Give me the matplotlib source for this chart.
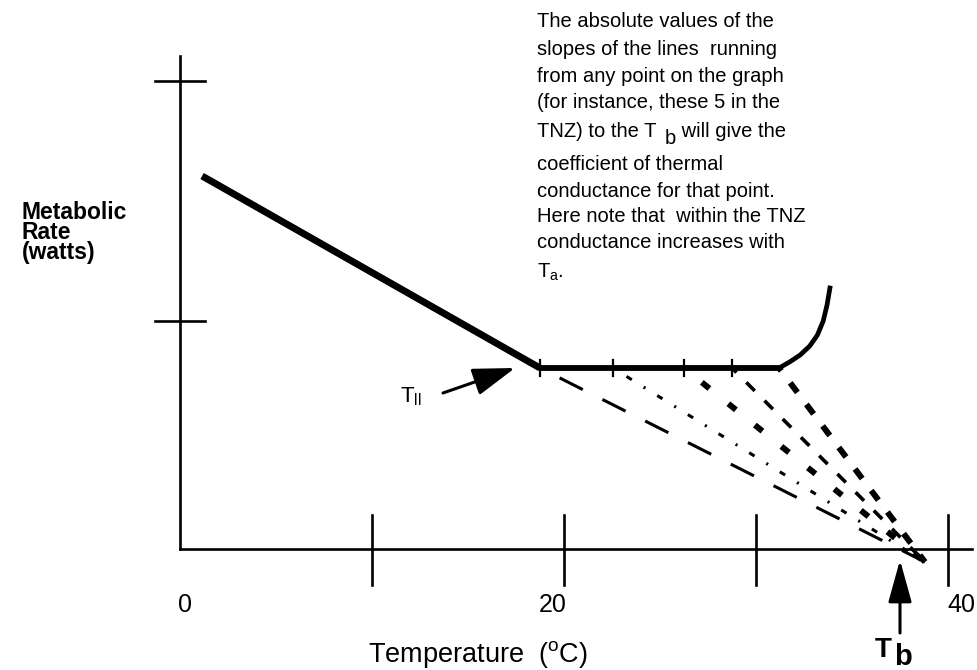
import numpy as np
import matplotlib
matplotlib.use('Agg')
import matplotlib.pyplot as plt

plt.rcParams['font.family'] = ['Liberation Sans', 'DejaVu Sans']
plt.rcParams['mathtext.fontset'] = 'custom'
plt.rcParams['mathtext.rm'] = 'Liberation Sans'
plt.rcParams['lines.scale_dashes'] = False

# ---------------------------------------------------------------------------
# data (temperature in oC, metabolic rate in arbitrary units)

x_ticks = [10, 20, 30, 40]
x_tick_labels = ['0', '20', '40']
x_label_vals = [0, 20, 40]
y_ticks = [2.28, 4.68]

cold_temp = [1.15, 18.75]
cold_rate = [3.73, 1.81]

tnz_temps = [18.75, 22.55, 26.25, 28.75, 31.2]
tnz_rate = 1.81

hot_temp = [31.2, 31.75, 32.3, 32.8, 33.2, 33.5, 33.7, 33.85]
hot_rate = [1.81, 1.87, 1.94, 2.03, 2.14, 2.28, 2.44, 2.61]

tb_conv = 38.8      # where the conductance lines meet
conv_rate = -0.13
t_body = 37.5

text_block = ["The absolute values of the",
              "slopes of the lines  running",
              "from any point on the graph",
              "(for instance, these 5 in the",
              None,   # line with the T b, built below
              "coefficient of thermal",
              "conductance for that point.",
              "Here note that  within the TNZ",
              "conductance increases with",
              r"$\mathregular{T_{a}}$."]
text_baselines = [27, 55, 82, 108, 137, 170, 197, 222, 248, 278]


# pixel -> data helper for placing text
def px(x, y):
    return (x - 180) / 19.2, (549 - y) / 100


# ---------------------------------------------------------------------------

fig = plt.figure(figsize=(9.77, 6.70), dpi=100)
ax = fig.add_axes([0, 0, 1, 1])
ax.set_xlim(-180 / 19.2, (977 - 180) / 19.2)
ax.set_ylim((549 - 670) / 100, 549 / 100)
ax.axis('off')
renderer = fig.canvas.get_renderer()


def place_after(prev, s, dx, dy, **kw):
    # put a text right after another one, dx/dy in pixels
    bb = prev.get_window_extent(renderer)
    yb = ax.transData.transform(prev.get_position())[1]
    x, y = ax.transData.inverted().transform((bb.x1 + dx, yb + dy))
    return ax.text(x, y, s, va='baseline', ha='left', **kw)


# hand drawn axes
ax.plot([0, 41.25], [0, 0], color='k', lw=1.9)
ax.plot([0, 0], [0, 4.93], color='k', lw=1.9)
for t in x_ticks:
    ax.plot([t, t], [-0.36, 0.34], color='k', lw=1.9)
for r in y_ticks:
    ax.plot([-1.3, 1.3], [r, r], color='k', lw=1.9)

# metabolic rate curve
ax.plot(cold_temp, cold_rate, color='k', lw=5, solid_capstyle='butt')
ax.plot([tnz_temps[0], tnz_temps[-1]], [tnz_rate, tnz_rate], color='k', lw=4.2,
        solid_capstyle='butt')
for t in tnz_temps[:-1]:
    ax.plot([t, t], [tnz_rate - 0.08, tnz_rate + 0.08], color='k', lw=1.6)
ax.plot(hot_temp, hot_rate, color='k', lw=3.4, solid_joinstyle='round')

# conductance lines to Tb
styles = [dict(lw=2.2, linestyle=(18.7, (18.7, 15.8))),
          dict(lw=2.2, linestyle=(0, (1.5, 10, 4.5, 10))),
          dict(lw=4.3, linestyle=(8, (7, 17.5))),
          dict(lw=2.6, linestyle=(4, (8.6, 10))),
          dict(lw=4.3, linestyle=(6, (8.6, 10.8)))]
for t, st in zip(tnz_temps, styles):
    ax.plot([t, tb_conv], [tnz_rate, conv_rate], color='k',
            dash_capstyle='butt', **st)

# arrows
ax.annotate('', xy=px(515, 368), xytext=px(443, 393),
            arrowprops=dict(arrowstyle='-|>,head_length=2.6,head_width=0.85',
                            mutation_scale=10, lw=2.2, color='k',
                            shrinkA=0, shrinkB=0))
ax.annotate('', xy=(t_body, -0.11), xytext=(t_body, -0.84),
            arrowprops=dict(arrowstyle='-|>,head_length=2.6,head_width=0.72',
                            mutation_scale=10, lw=2.2, color='k',
                            shrinkA=0, shrinkB=0))

# text block
for line, yb in zip(text_block, text_baselines):
    if line is None:
        t1 = ax.text(*px(537, yb), "TNZ) to the T", fontsize=14.5,
                     va='baseline', ha='left')
        t2 = place_after(t1, "b", 8, -7, fontsize=14.5)
        place_after(t2, " will give the", 0, 7, fontsize=14.5)
    else:
        ax.text(*px(537, yb), line, fontsize=14.5, va='baseline', ha='left')

ax.text(*px(22, 259), "Metabolic\nRate\n(watts)", fontsize=16.5,
        fontweight='bold', va='baseline', ha='left', linespacing=0.82)

ax.text(*px(400, 402), r"$\mathregular{T_{ll}}$", fontsize=16,
        va='baseline', ha='left')

label_offsets = [5, -11, 13]
for v, lab, off in zip(x_label_vals, x_tick_labels, label_offsets):
    ax.text(v + off / 19.2, px(0, 612)[1], lab, fontsize=18,
            ha='center', va='baseline')

ax.text(*px(588, 662), r"Temperature  ($\mathregular{^{o}}$C)", fontsize=19.5,
        ha='right', va='baseline')

ax.text(*px(875, 657), "T", fontsize=20, fontweight='bold',
        ha='left', va='baseline')
ax.text(*px(894, 665), "b", fontsize=21, fontweight='bold',
        ha='left', va='baseline')

plt.savefig('out.png', dpi=100)
